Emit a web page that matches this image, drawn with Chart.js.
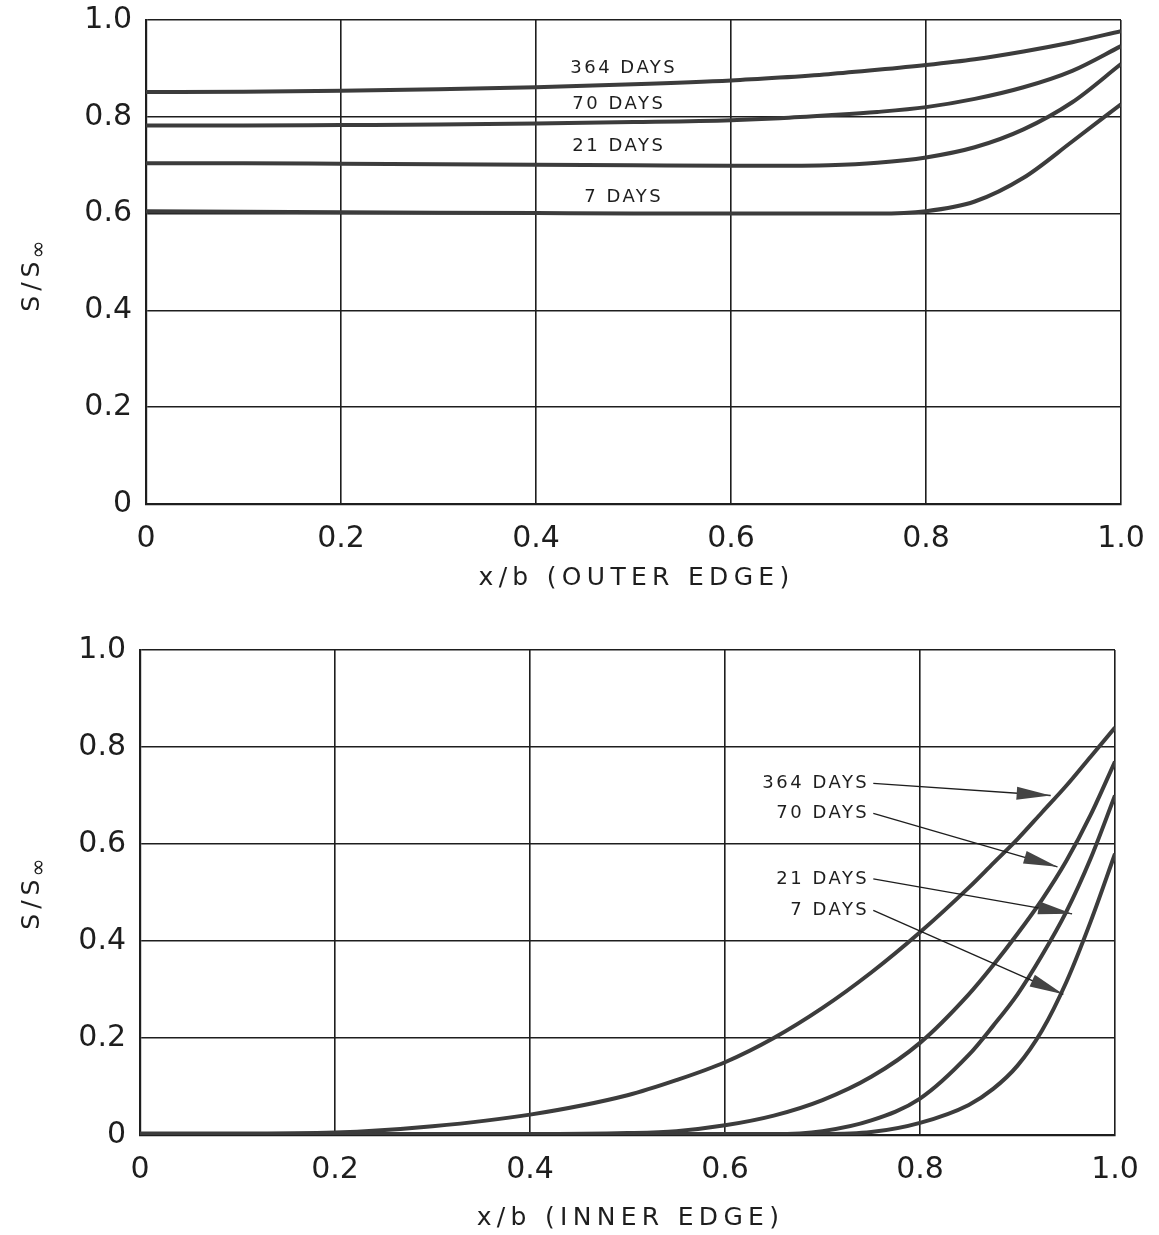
<!DOCTYPE html>
<html>
<head>
<meta charset="utf-8">
<script src="https://cdn.jsdelivr.net/npm/chart.js@4.4.0/dist/chart.umd.min.js"></script>
<style>
  body { margin: 0; background: #fff; }
  #wrap { position: relative; width: 1159px; height: 1235px; }
  canvas { position: absolute; left: 0; }
  #top { top: 0; }
  #bottom { top: 620px; }
</style>
</head>
<body>
<div id="wrap">
  <canvas id="top" width="1159" height="610"></canvas>
  <canvas id="bottom" width="1159" height="615"></canvas>
</div>
<script>
// valors llegits de la figura (S/S∞ contra x/b)
const seriesNames = ["364 DAYS", "70 DAYS", "21 DAYS", "7 DAYS"];
const xTicks = [0, 0.2, 0.4, 0.6, 0.8, 1.0];
const yTicks = [0, 0.2, 0.4, 0.6, 0.8, 1.0];

// vora exterior
const xOuter = [0, 0.1, 0.2, 0.3, 0.4, 0.5, 0.6, 0.65, 0.7, 0.75, 0.8, 0.85, 0.9, 0.95, 1.0];
const outer364 = [0.851, 0.852, 0.854, 0.857, 0.861, 0.867, 0.875, 0.881, 0.888, 0.897, 0.907, 0.919, 0.935, 0.954, 0.977];
const outer70  = [0.782, 0.782, 0.783, 0.784, 0.786, 0.789, 0.793, 0.797, 0.803, 0.810, 0.820, 0.837, 0.861, 0.895, 0.946];
const outer21  = [0.704, 0.704, 0.703, 0.702, 0.701, 0.700, 0.699, 0.699, 0.700, 0.705, 0.716, 0.737, 0.774, 0.830, 0.909];
const outer7   = [0.605, 0.604, 0.603, 0.602, 0.601, 0.600, 0.600, 0.600, 0.600, 0.600, 0.605, 0.625, 0.674, 0.749, 0.826];

// vora interior
const xInner = [0, 0.1, 0.2, 0.3, 0.4, 0.5, 0.55, 0.6, 0.65, 0.7, 0.75, 0.8, 0.85, 0.875, 0.9, 0.925, 0.95, 0.975, 1.0];
const inner364 = [0.003, 0.003, 0.005, 0.018, 0.042, 0.082, 0.113, 0.150, 0.200, 0.262, 0.335, 0.418, 0.510, 0.560, 0.610, 0.665, 0.720, 0.780, 0.840];
const inner70  = [0.002, 0.002, 0.002, 0.002, 0.002, 0.004, 0.008, 0.020, 0.040, 0.072, 0.120, 0.190, 0.290, 0.350, 0.415, 0.485, 0.565, 0.660, 0.770];
const inner21  = [0.002, 0.002, 0.002, 0.002, 0.002, 0.002, 0.002, 0.002, 0.002, 0.008, 0.030, 0.075, 0.165, 0.225, 0.290, 0.370, 0.460, 0.570, 0.700];
const inner7   = [0.002, 0.002, 0.002, 0.002, 0.002, 0.002, 0.002, 0.002, 0.002, 0.002, 0.006, 0.025, 0.062, 0.095, 0.143, 0.215, 0.315, 0.440, 0.580];

const FONT = "'DejaVu Sans', sans-serif";
const INK = "#1e1e1e";
const CURVE = "#3c3c3c";

function pts(xs, ys) {
  return xs.map((x, i) => ({ x: x, y: ys[i] }));
}

function makeDatasets(xs, list) {
  return list.map((ys, i) => ({
    label: seriesNames[i],
    data: pts(xs, ys),
    borderColor: CURVE,
    borderWidth: 4,
    pointRadius: 0,
    fill: false,
    cubicInterpolationMode: 'monotone'
  }));
}

// etiquetes i fletxes (coordenades de dades)
const topLabelPos = [[0.49, 0.90], [0.485, 0.826], [0.485, 0.738], [0.49, 0.634]];
const bottomLabelPos = [[0.748, 0.725], [0.748, 0.663], [0.748, 0.528], [0.748, 0.463]];
const bottomArrowTip = [[0.934, 0.70], [0.941, 0.553], [0.956, 0.456], [0.947, 0.29]];

function drawYTitle(ctx, cx, cy) {
  ctx.save();
  ctx.translate(cx, cy);
  ctx.rotate(-Math.PI / 2);
  ctx.fillStyle = INK;
  ctx.textBaseline = 'middle';
  ctx.textAlign = 'left';
  ctx.font = "25px " + FONT;
  ctx.letterSpacing = "5px";
  const main = "S/S";
  const w = ctx.measureText(main).width;
  ctx.font = "22px " + FONT;
  ctx.letterSpacing = "0px";
  const w2 = ctx.measureText("\u221E").width;
  const x0 = -(w + w2) / 2;
  ctx.font = "25px " + FONT;
  ctx.letterSpacing = "5px";
  ctx.fillText(main, x0, 0);
  ctx.font = "22px " + FONT;
  ctx.letterSpacing = "0px";
  ctx.fillText("\u221E", x0 + w - 2, 7);
  ctx.restore();
}

function labelsPlugin(which) {
  return {
    id: 'labels_' + which,
    afterDraw(chart) {
      const ctx = chart.ctx;
      const xs = chart.scales.x, ys = chart.scales.y;
      const area = chart.chartArea;
      ctx.save();
      ctx.fillStyle = INK;
      ctx.strokeStyle = INK;
      ctx.font = "18px " + FONT;
      ctx.letterSpacing = "2.5px";
      ctx.textBaseline = 'middle';
      if (which === 'top') {
        ctx.textAlign = 'center';
        seriesNames.forEach((n, i) => {
          ctx.fillText(n, xs.getPixelForValue(topLabelPos[i][0]), ys.getPixelForValue(topLabelPos[i][1]));
        });
      } else {
        ctx.textAlign = 'right';
        seriesNames.forEach((n, i) => {
          const tx = xs.getPixelForValue(bottomLabelPos[i][0]);
          const ty = ys.getPixelForValue(bottomLabelPos[i][1]);
          ctx.fillText(n, tx, ty);
          const hx = xs.getPixelForValue(bottomArrowTip[i][0]);
          const hy = ys.getPixelForValue(bottomArrowTip[i][1]);
          const sx = tx + 4, sy = ty;
          ctx.lineWidth = 1.3;
          ctx.beginPath();
          ctx.moveTo(sx, sy);
          ctx.lineTo(hx, hy);
          ctx.stroke();
          const a = Math.atan2(hy - sy, hx - sx);
          const L = 34, W = 6.5;
          ctx.beginPath();
          ctx.moveTo(hx, hy);
          ctx.lineTo(hx - L * Math.cos(a) + W * Math.sin(a), hy - L * Math.sin(a) - W * Math.cos(a));
          ctx.lineTo(hx - L * Math.cos(a) - W * Math.sin(a), hy - L * Math.sin(a) + W * Math.cos(a));
          ctx.closePath();
          ctx.fillStyle = "#444";
          ctx.fill();
          ctx.fillStyle = INK;
        });
      }
      // títols dels eixos
      ctx.letterSpacing = "5.3px";
      ctx.font = "25px " + FONT;
      ctx.textAlign = 'center';
      const xt = which === 'top' ? "x/b (OUTER EDGE)" : "x/b (INNER EDGE)";
      const xtY = which === 'top' ? area.bottom + 74 : area.bottom + 83;
      ctx.fillText(xt, (area.left + area.right) / 2 + 3, xtY);
      const yCenter = which === 'top' ? 275 : 273;
      drawYTitle(ctx, 32, yCenter);
      ctx.restore();
    }
  };
}

function noPad(s) {
  s.paddingTop = 0; s.paddingBottom = 0; s.paddingLeft = 0; s.paddingRight = 0;
}

function makeConfig(which, xs, list, dims) {
  return {
    type: 'line',
    data: { datasets: makeDatasets(xs, list) },
    options: {
      responsive: false,
      animation: false,
      layout: { padding: { top: dims.top, right: dims.right, left: 0, bottom: 0 } },
      plugins: { legend: { display: false }, tooltip: { enabled: false } },
      scales: {
        x: {
          type: 'linear', min: 0, max: 1,
          afterBuildTicks: s => { s.ticks = xTicks.map(v => ({ value: v })); },
          afterFit: s => { s.height = dims.xh; noPad(s); },
          grid: { color: INK, lineWidth: 1.6, drawTicks: false },
          border: { color: INK, width: 2.2 },
          ticks: {
            color: INK, padding: dims.xpad, maxRotation: 0,
            font: { family: FONT, size: 30 },
            callback: v => v === 0 ? '0' : v.toFixed(1)
          }
        },
        y: {
          type: 'linear', min: 0, max: 1,
          afterBuildTicks: s => { s.ticks = yTicks.map(v => ({ value: v })); },
          afterFit: s => { s.width = dims.yw; noPad(s); },
          grid: { color: INK, lineWidth: 1.6, drawTicks: false },
          border: { color: INK, width: 2.2 },
          ticks: {
            color: INK, padding: dims.ypad,
            font: { family: FONT, size: 30 },
            callback: v => v === 0 ? '0' : v.toFixed(1)
          }
        }
      }
    },
    plugins: [labelsPlugin(which)]
  };
}

const chartTop = new Chart(document.getElementById('top'),
  makeConfig('top', xOuter, [outer364, outer70, outer21, outer7],
    { top: 20, right: 38, xh: 106, yw: 146, xpad: 17, ypad: 14 }));

const chartBottom = new Chart(document.getElementById('bottom'),
  makeConfig('bottom', xInner, [inner364, inner70, inner21, inner7],
    { top: 30, right: 44, xh: 100, yw: 140, xpad: 17, ypad: 14 }));
</script>
</body>
</html>
